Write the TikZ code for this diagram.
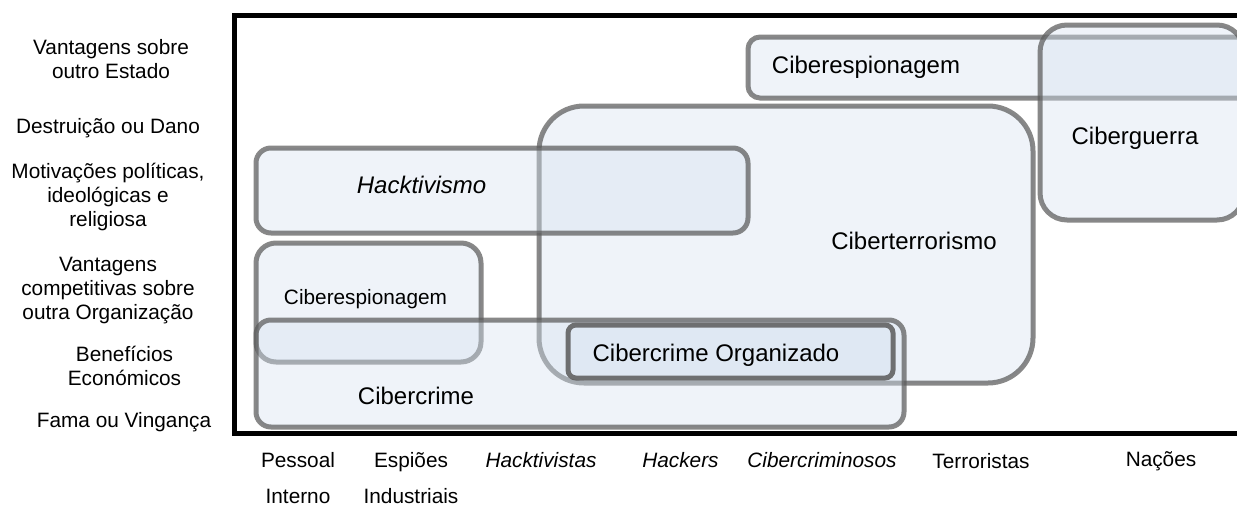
\documentclass[tikz,border=0pt]{standalone}
\usepackage{fontspec}
\setmainfont{Liberation Sans}
\definecolor{boxfill}{RGB}{214,226,240}
\definecolor{boxline}{RGB}{90,90,90}
\begin{document}
\begin{tikzpicture}[x=1pt,y=-1pt,
  zone/.style={draw=boxline, draw opacity=0.72, fill=boxfill, fill opacity=0.4, line width=5pt},
  big/.style={font=\fontsize{24}{28}\selectfont, inner sep=0pt, anchor=base},
  small/.style={font=\fontsize{20.8}{24}\selectfont, inner sep=0pt, anchor=base, align=center},
  frame/.style={draw=black, line width=5pt, line join=miter}]
\useasboundingbox (0,0) rectangle (1237,504);
\clip (0,0) rectangle (1237,504);
% zones
\draw[zone, rounded corners=12pt] (748,37) rectangle (1260,98);
\draw[zone, rounded corners=27pt] (1040,25) rectangle (1244,220);
\draw[zone, rounded corners=45pt] (539,106) rectangle (1033,383);
\draw[zone, rounded corners=15pt] (256,148) rectangle (748,233);
\draw[zone, rounded corners=20pt] (256,243) rectangle (481,362);
\draw[zone, rounded corners=15pt] (256,320) rectangle (904,427);
\draw[zone, draw opacity=0.85, rounded corners=8pt] (568,325) rectangle (893,378);
% frame
\coordinate (fTR) at (1240,15.5);
\coordinate (fTL) at (234.5,15.5);
\coordinate (fBL) at (234.5,433.5);
\coordinate (fBR) at (1240,433.5);
\draw[frame] (fTR) -- (fTL) -- (fBL) -- (fBR);
% zone labels
\node[big] (tEspTop) at (866,73) {Ciberespionagem};
\node[big] (tGuerra) at (1135,144) {Ciberguerra};
\node[big] (tHackt) at (421.5,193.5) {\itshape Hacktivismo};
\node[big] (tTerror) at (914,249.5) {Ciberterrorismo};
\node[small] (tEspLeft) at (365.5,304) {Ciberespionagem};
\node[big] (tOrg) at (716,361.5) {Cibercrime Organizado};
\node[big] (tCrime) at (416,404) {Cibercrime};
% motivations (left); base anchor = last line's baseline
\node[small] (m1) at (111,78) {Vantagens sobre\\outro Estado};
\node[small] (m2) at (108,133.5) {Destruição ou Dano};
\node[small] (m3) at (108,226.5) {Motivações políticas,\\ideológicas e\\religiosa};
\node[small] (m4) at (108,319) {Vantagens\\competitivas sobre\\outra Organização};
\node[small] (m5) at (124.5,385.5) {Benefícios\\Económicos};
\node[small] (m6) at (124,427.5) {Fama ou Vingança};
% actors (bottom)
\node[small, font=\fontsize{20.8}{36}\selectfont] (a1) at (298,503) {Pessoal\\Interno};
\node[small, font=\fontsize{20.8}{36}\selectfont] (a2) at (411,503) {Espiões\\Industriais};
\node[small] (a3) at (541,467) {\itshape Hacktivistas};
\node[small] (a4) at (680.5,467) {\itshape Hackers};
\node[small] (a5) at (822,467) {\itshape Cibercriminosos};
\node[small] (a6) at (981,468) {Terroristas};
\node[small] (a7) at (1161,466) {Nações};
\end{tikzpicture}
\end{document}
